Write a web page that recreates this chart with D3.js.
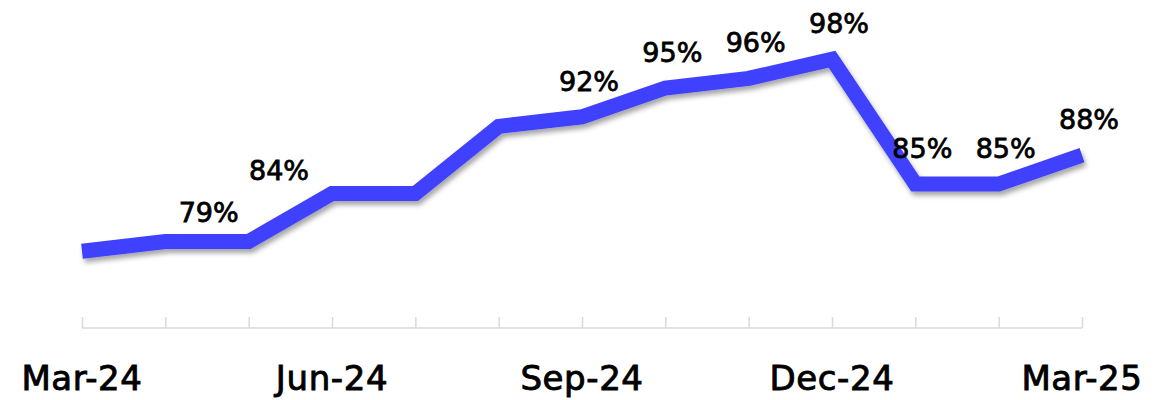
<!DOCTYPE html>
<html>
<head>
<meta charset="utf-8">
<script src="https://cdn.jsdelivr.net/npm/d3@7"></script>
<style>
  body { margin: 0; background: #fff; }
  svg { display: block; }
</style>
</head>
<body>
<div id="chart"></div>
<script>
// monthly values (fraction)
var months = ["Mar-24","Apr-24","May-24","Jun-24","Jul-24","Aug-24","Sep-24","Oct-24","Nov-24","Dec-24","Jan-25","Feb-25","Mar-25"]
var values = [0.78, 0.79, 0.79, 0.84, 0.84, 0.91, 0.92, 0.95, 0.96, 0.98, 0.85, 0.85, 0.88]
// which months get a value label
var labelMonths = ["May-24","Jun-24","Sep-24","Oct-24","Nov-24","Dec-24","Jan-25","Feb-25","Mar-25"]
// which months get an axis label
var tickLabels = ["Mar-24","Jun-24","Sep-24","Dec-24","Mar-25"]

var width = 1171, height = 400
var axisY = 328

var svg = d3.select("#chart").append("svg")
    .attr("width", width).attr("height", height)

// drop shadow under the line
var defs = svg.append("defs")
defs.append("filter").attr("id", "shadow")
    .attr("x", "-10%").attr("y", "-20%").attr("width", "120%").attr("height", "150%")
    .append("feDropShadow")
    .attr("dx", 2).attr("dy", 4).attr("stdDeviation", 2.5)
    .attr("flood-color", "#000").attr("flood-opacity", 0.35)

var x = d3.scalePoint().domain(months).range([82, 1082])
var y = d3.scaleLinear().domain([0.70, 1.00]).range([axisY, 40])

// axis line + upward ticks
var axis = d3.axisBottom(x).tickSize(-11).tickFormat("")
svg.append("g")
    .attr("transform", "translate(0," + axisY + ")")
    .call(axis)
    .call(function (g) {
        g.select(".domain").attr("d", "M" + x(months[0]) + ",0H" + x(months[months.length - 1]))
            .attr("stroke", "#d9d9d9").attr("stroke-width", 1.5)
        g.selectAll(".tick line").attr("stroke", "#d9d9d9").attr("stroke-width", 1.5)
    })

// month labels
svg.append("g").selectAll("text")
    .data(tickLabels)
    .enter().append("text")
    .attr("x", function (d) { return x(d) })
    .attr("y", 390)
    .attr("text-anchor", "middle")
    .attr("font-family", "DejaVu Sans")
    .attr("font-size", 34)
    .attr("letter-spacing", 0.6)
    .attr("fill", "#000")
    .attr("stroke", "#000").attr("stroke-width", 0.9)
    .text(function (d) { return d })

// the line
var line = d3.line()
    .x(function (d, i) { return x(months[i]) })
    .y(function (d) { return y(d) })

svg.append("path")
    .datum(values)
    .attr("d", line)
    .attr("fill", "none")
    .attr("stroke", "#3f3fff")
    .attr("stroke-width", 15)
    .attr("stroke-linejoin", "miter")
    .attr("stroke-linecap", "butt")
    .attr("filter", "url(#shadow)")

// value labels (the two early ones sit left of their points in the original)
var nudge = { "May-24": [-47, 6], "Jun-24": [-60, 12] }
svg.append("g").selectAll("text")
    .data(labelMonths)
    .enter().append("text")
    .attr("x", function (d) { return x(d) + 7 + (nudge[d] ? nudge[d][0] : 0) })
    .attr("y", function (d) { return y(values[months.indexOf(d)]) - 26 + (nudge[d] ? nudge[d][1] : 0) })
    .attr("text-anchor", "middle")
    .attr("font-family", "DejaVu Sans")
    .attr("font-size", 27)
    .attr("fill", "#000")
    .attr("stroke", "#000").attr("stroke-width", 0.8)
    .text(function (d) { return Math.round(values[months.indexOf(d)] * 100) + "%" })
</script>
</body>
</html>
